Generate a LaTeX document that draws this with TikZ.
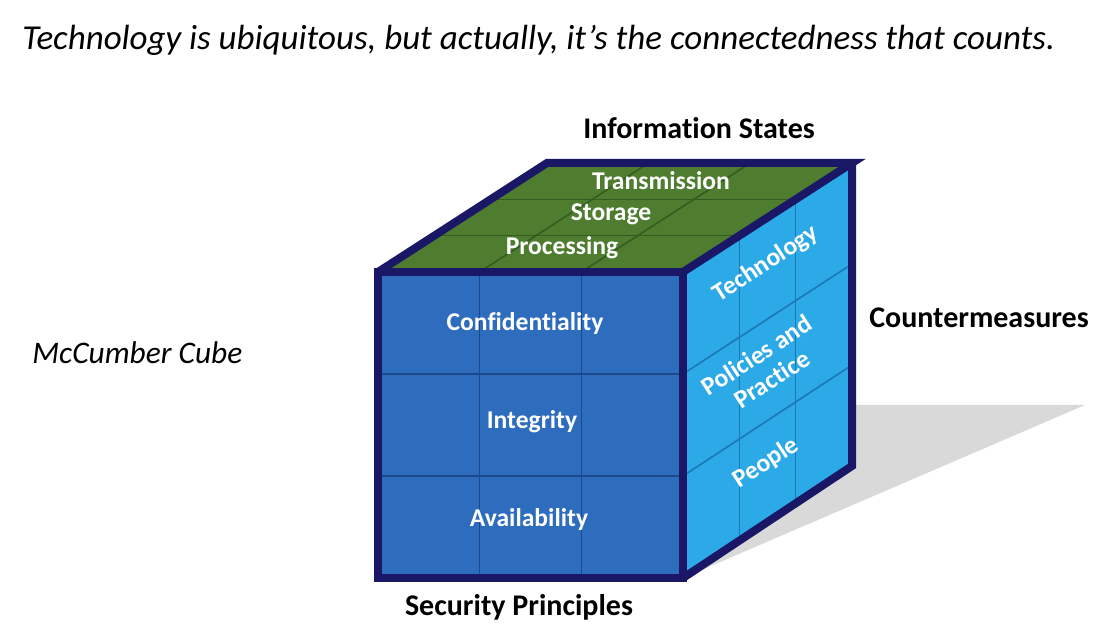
\documentclass[tikz,border=0pt]{standalone}
\usepackage{fontspec}
\setmainfont{Carlito}[Ligatures=NoCommon]
\usetikzlibrary{calc}
\definecolor{cubeNavy}{RGB}{26,24,102}
\definecolor{frontblue}{RGB}{46,108,190}
\definecolor{sideblue}{RGB}{44,170,232}
\definecolor{topgreen}{RGB}{78,125,48}
\definecolor{frontgrid}{RGB}{28,72,140}
\definecolor{sidegrid}{RGB}{28,120,180}
\definecolor{topgrid}{RGB}{52,92,32}
\definecolor{shadowgray}{RGB}{217,217,217}
\begin{document}
\begin{tikzpicture}[x=0.5pt,y=-0.5pt,
  navy/.style={draw=cubeNavy,line width=4pt,line join=miter},
  gridline/.style={line width=0.8pt},
  lbl/.style={text=white,font=\bfseries\fontsize{12.8}{14}\selectfont,inner sep=0pt},
  axislbl/.style={text=black,font=\bfseries\fontsize{15}{17}\selectfont,inner sep=0pt},
  ital/.style={font=\itshape\fontsize{17.5}{20}\selectfont,inner sep=0pt}]
\useasboundingbox (0,0) rectangle (1114,630);
\fill[white] (0,0) rectangle (1114,630);
% cube corners
\coordinate (A) at (378,272);
\coordinate (B) at (683,272);
\coordinate (C) at (683,578);
\coordinate (D) at (378,578);
\coordinate (E) at (547,163);
\coordinate (F) at (852,163);
\coordinate (G) at (852,466);
\coordinate (S1) at (852,405);
\coordinate (S2) at (1085,405);
% shadow
\fill[shadowgray] (S1) -- (S2) -- (C) -- cycle;
% faces
\fill[frontblue] (A) rectangle (C);
\fill[topgreen] (A) -- (B) -- (F) -- (E) -- cycle;
\fill[sideblue] (B) -- (F) -- (G) -- (C) -- cycle;
% grids
\foreach \t in {1,2} {
  \draw[gridline,frontgrid] ($(A)!\t/3!(B)$) -- ($(D)!\t/3!(C)$);
  \draw[gridline,frontgrid] ($(A)!\t/3!(D)$) -- ($(B)!\t/3!(C)$);
  \draw[gridline,topgrid] ($(A)!\t/3!(B)$) -- ($(E)!\t/3!(F)$);
  \draw[gridline,topgrid] ($(A)!\t/3!(E)$) -- ($(B)!\t/3!(F)$);
  \draw[gridline,sidegrid] ($(B)!\t/3!(F)$) -- ($(C)!\t/3!(G)$);
  \draw[gridline,sidegrid] ($(B)!\t/3!(C)$) -- ($(F)!\t/3!(G)$);
}
% borders
\draw[navy] (A) rectangle (C);
\draw[navy] (A) -- (E) -- (F) -- (B);
\draw[navy] (F) -- (G) -- (C);
% texts
\node[ital,anchor=base west] (title) at (22,50) {Technology is ubiquitous, but actually, it’s the connectedness that counts.};
\node[ital,anchor=base west,font=\itshape\fontsize{15.7}{18}\selectfont] (mcc) at (32,364) {McCumber Cube};
\node[axislbl] (info) at (699,128) {Information States};
\node[axislbl] (counter) at (979,318) {Countermeasures};
\node[axislbl] (secp) at (519,607) {Security Principles};
\node[lbl] (conf) at (525,324) {Confidentiality};
\node[lbl] (integ) at (532,422) {Integrity};
\node[lbl] (avail) at (529,520) {Availability};
\node[lbl] (proc) at (562,248) {Processing};
\node[lbl] (stor) at (611,214) {Storage};
\node[lbl] (trans) at (661,181) {Transmission};
\node[lbl,rotate=33] (tech) at (766,264) {Technology};
\node[lbl,rotate=33,align=center] (pol) at (764,367) {Policies and\\Practice};
\node[lbl,rotate=33] (people) at (766,463) {People};
\end{tikzpicture}
\end{document}
